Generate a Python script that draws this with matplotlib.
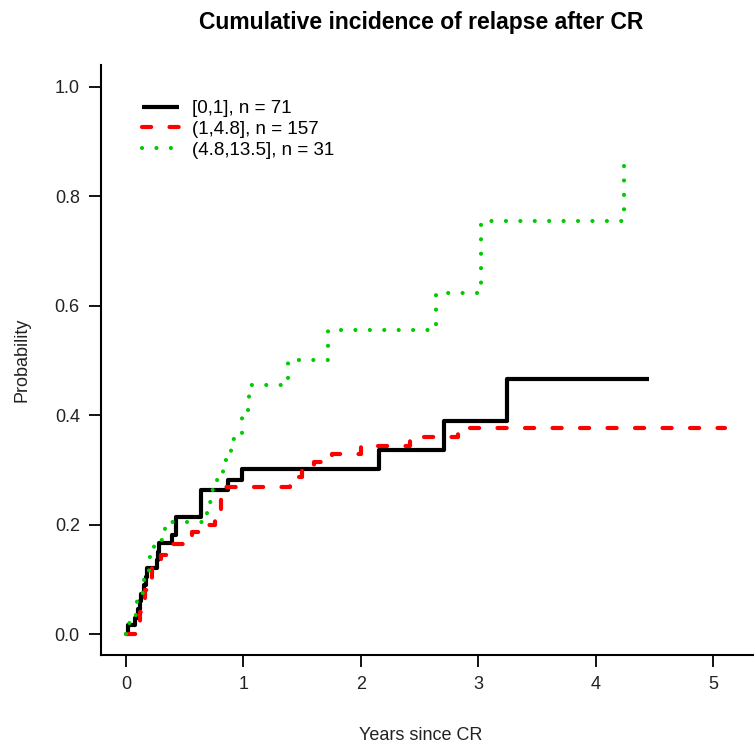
#!/usr/bin/env python3

import matplotlib

matplotlib.use("Agg")

import matplotlib.pyplot as plt
import numpy as np


# step data: jump times (years) and value after each jump
BLACK_TIMES = [0.02, 0.08, 0.10, 0.12, 0.13, 0.15, 0.17, 0.18, 0.26, 0.27, 0.28,
               0.39, 0.43, 0.64, 0.87, 0.99, 2.15, 2.71, 3.24]
BLACK_PROBS = [0.016, 0.030, 0.045, 0.060, 0.074, 0.089, 0.104, 0.120, 0.135, 0.150, 0.166,
               0.181, 0.213, 0.263, 0.281, 0.301, 0.336, 0.389, 0.465]
BLACK_END = 4.45

RED_TIMES = [0.10, 0.12, 0.14, 0.16, 0.19, 0.22, 0.26, 0.30, 0.40, 0.56, 0.66,
             0.76, 0.81, 0.83, 1.40, 1.50, 1.60, 1.75, 2.00, 2.42, 2.83]
RED_PROBS = [0.020, 0.040, 0.060, 0.080, 0.100, 0.120, 0.135, 0.145, 0.164, 0.187, 0.200,
             0.214, 0.254, 0.269, 0.287, 0.306, 0.315, 0.329, 0.344, 0.359, 0.377]
RED_END = 5.10

GREEN_TIMES = [0.03, 0.07, 0.09, 0.12, 0.15, 0.20, 0.24, 0.29, 0.33, 0.37, 0.69,
               0.72, 0.76, 0.83, 0.89, 0.95, 0.99, 1.05, 1.38, 1.72, 2.64, 3.02, 4.24]
GREEN_PROBS = [0.020, 0.035, 0.060, 0.075, 0.100, 0.140, 0.160, 0.172, 0.193, 0.205, 0.242,
               0.263, 0.281, 0.318, 0.356, 0.368, 0.409, 0.455, 0.500, 0.556, 0.622, 0.755, 0.866]
GREEN_END = 4.24

LABELS = ["[0,1], n = 71", "(1,4.8], n = 157", "(4.8,13.5], n = 31"]
X_TICKS = [0, 1, 2, 3, 4, 5]
Y_TICKS = [0.0, 0.2, 0.4, 0.6, 0.8, 1.0]


def _step_arrays(times, probs, end):
    t = np.concatenate([[0.0], times, [end]])
    p = np.concatenate([[0.0], probs, [probs[-1]]])
    return t, p


def main():
    plt.rcParams["font.family"] = ["Liberation Sans", "DejaVu Sans"]
    W, H = 754, 751
    fig = plt.figure(figsize=(W / 100, H / 100), dpi=100)
    ax = fig.add_axes([101.3 / W, 96.5 / H, (W - 101.3) / W, (654.5 - 64.6) / H])

    lw = 3.0
    t, p = _step_arrays(BLACK_TIMES, BLACK_PROBS, BLACK_END)
    ax.step(t, p, where="post", color="black", linewidth=lw, label=LABELS[0],
            solid_capstyle="butt")
    t, p = _step_arrays(RED_TIMES, RED_PROBS, RED_END)
    ax.step(t, p, where="post", color="#ff0000", linewidth=lw, label=LABELS[1],
            linestyle=(0, (2.2, 4.4)), dash_capstyle="round")
    t, p = _step_arrays(GREEN_TIMES, GREEN_PROBS, GREEN_END)
    ax.step(t, p, where="post", color="#00cc00", linewidth=lw, label=LABELS[2],
            linestyle=(0, (0.01, 3.45)), dash_capstyle="round")

    ax.set_xlim(-0.210, 5.345)
    ax.set_ylim(-0.0374, 1.04)
    ax.set_xticks(X_TICKS)
    ax.set_yticks(Y_TICKS)
    ax.set_yticklabels(["%.1f" % v for v in Y_TICKS])
    for side in ("top", "right"):
        ax.spines[side].set_visible(False)
    for side in ("left", "bottom"):
        ax.spines[side].set_linewidth(1.5)
    ax.tick_params(direction="out", length=8.5, width=1.3, labelsize=13, pad=7,
                   labelcolor="#222222")

    ax.legend(loc="upper left", bbox_to_anchor=(141.7 / W, 1 - 100 / H),
              bbox_transform=fig.transFigure, frameon=False, fontsize=13.5,
              handlelength=2.0, handletextpad=0.7, labelspacing=0.2, borderpad=0,
              borderaxespad=0)

    fig.text(421 / W, 1 - 22 / H, "Cumulative incidence of relapse after CR",
             ha="center", va="center", fontsize=16.5, fontweight="bold")
    fig.text(421 / W, 1 - 735 / H, "Years since CR", ha="center", va="center", fontsize=13,
             color="#222222")
    fig.text(22 / W, 1 - 360 / H, "Probability", ha="center", va="center", fontsize=13,
             rotation=90, color="#222222")

    fig.savefig("out.png", dpi=100)
    plt.close(fig)


if __name__ == "__main__":
    main()
